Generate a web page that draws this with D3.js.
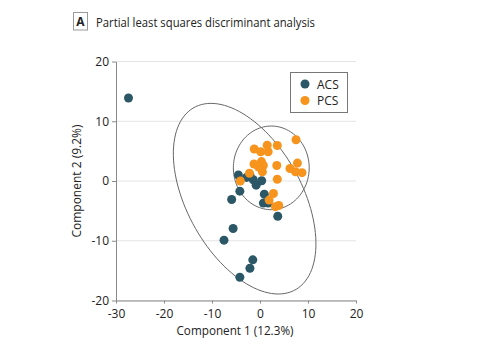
<!DOCTYPE html>
<html>
<head>
<meta charset="utf-8">
<script src="https://cdn.jsdelivr.net/npm/d3@7"></script>
<style>
html,body{margin:0;padding:0;background:#fff;}
svg{display:block;font-family:"Open Sans",sans-serif;}
</style>
</head>
<body>
<svg id="chart" width="480" height="360"></svg>
<script>
// ---- data ----
const acsX = [-27.4,-4.5,-2.8,-2.1,-1.4,-0.8,0.35,-4.2,-5.9,0.9,0.7,1.7,3.7,-5.6,-7.5,-1.5,-2.1,-4.2];
const acsY = [13.9,1.0,0.6,1.0,0.2,-0.7,0.05,-1.7,-3.1,-2.2,-3.7,-3.7,-5.9,-7.95,-9.9,-13.2,-14.6,-16.1];
const pcsX = [7.5,-1.2,0.15,1.5,1.7,3.6,-1.25,0.3,0.7,0.5,-0.3,3.5,6.25,7.8,7.4,8.75,3.6,-2.2,-4.1,2.8,1.9,3.2,3.9];
const pcsY = [6.9,5.35,4.9,6.0,4.9,5.95,2.85,3.25,2.6,1.55,2.35,2.6,2.1,3.0,1.55,1.4,0.3,1.3,0.0,-2.1,-3.2,-4.3,-4.1];
const seriesNames = ["ACS","PCS"];
const seriesColors = ["#2b5766","#f7941d"];
// ellipses: [cx, cy, semi-major, semi-minor, angle(deg)] in data units
const ellipseACS = [-3.2,-2.96,18.73,11.15,-49.3];
const ellipsePCS = [2.35,2.2,7.9,7.0,0];
const xTicks = [-30,-20,-10,0,10,20];
const yTicks = [-20,-10,0,10,20];
const titleLetter = "A";
const titleText = "Partial least squares discriminant analysis";
const xLabel = "Component 1 (12.3%)";
const yLabel = "Component 2 (9.2%)";

// ---- drawing ----
const svg = d3.select("#chart");
const x = d3.scaleLinear().domain([-30,20]).range([116,356]);
const y = d3.scaleLinear().domain([-20,20]).range([300.5,61.5]);

// title
const tg = svg.append("g");
tg.append("rect").attr("x",73.5).attr("y",12.5).attr("width",14).attr("height",17.5)
  .attr("fill","#fff").attr("stroke","#9a9a9a").attr("stroke-width",1);
tg.append("text").attr("x",80.5).attr("y",26).attr("text-anchor","middle")
  .attr("font-size",12).attr("font-weight","bold").attr("fill","#222").text(titleLetter);
tg.append("text").attr("x",96).attr("y",26.5).attr("font-size",13.5)
  .attr("textLength",219).attr("lengthAdjust","spacingAndGlyphs")
  .attr("fill","#222").text(titleText);

// grid
svg.append("g").selectAll("line").data(yTicks).join("line")
  .attr("x1",x(-30)).attr("x2",x(20)).attr("y1",d=>y(d)).attr("y2",d=>y(d))
  .attr("stroke","#e4e4e4").attr("stroke-width",1);

// axes
const ax = svg.append("g").attr("transform",`translate(0,${y(-20)})`)
  .call(d3.axisBottom(x).tickValues(xTicks).tickSize(3).tickSizeOuter(0).tickPadding(6).tickFormat(d=>d));
const ay = svg.append("g").attr("transform",`translate(${x(-30)},0)`)
  .call(d3.axisLeft(y).tickValues(yTicks).tickSize(4).tickSizeOuter(0).tickPadding(3).tickFormat(d=>d));
[ax,ay].forEach(a=>{
  a.select(".domain").attr("stroke","#8a8a8a");
  a.selectAll(".tick line").attr("stroke","#8a8a8a");
  a.selectAll(".tick text").attr("font-size",12).attr("fill","#222").attr("font-family","Open Sans, sans-serif");
});

// axis labels
svg.append("text").attr("x",235).attr("y",335).attr("text-anchor","middle")
  .attr("font-size",12).attr("textLength",117).attr("lengthAdjust","spacingAndGlyphs")
  .attr("fill","#222").text(xLabel);
svg.append("text").attr("transform",`translate(81,${y(0)}) rotate(-90)`).attr("text-anchor","middle")
  .attr("font-size",12).attr("fill","#222").text(yLabel);

// ellipses
function ellipsePts(p){
  const [cx,cy,a,b,deg]=p, th=deg*Math.PI/180;
  return d3.range(0,120).map(i=>{
    const t=i/120*2*Math.PI;
    const dx=a*Math.cos(t), dy=b*Math.sin(t);
    return [cx+dx*Math.cos(th)-dy*Math.sin(th), cy+dx*Math.sin(th)+dy*Math.cos(th)];
  });
}
const line = d3.line().x(d=>x(d[0])).y(d=>y(d[1])).curve(d3.curveCardinalClosed);
[ellipseACS,ellipsePCS].forEach(p=>{
  svg.append("path").attr("d",line(ellipsePts(p))).attr("fill","none")
    .attr("stroke","#666").attr("stroke-width",1);
});

// points
const acs = acsX.map((v,i)=>({x:v,y:acsY[i]}));
const pcs = pcsX.map((v,i)=>({x:v,y:pcsY[i]}));
svg.append("g").selectAll("circle").data(acs).join("circle")
  .attr("cx",d=>x(d.x)).attr("cy",d=>y(d.y)).attr("r",4.5).attr("fill",seriesColors[0]);
svg.append("g").selectAll("circle").data(pcs).join("circle")
  .attr("cx",d=>x(d.x)).attr("cy",d=>y(d.y)).attr("r",4.5).attr("fill",seriesColors[1]);

// legend
const lg = svg.append("g");
lg.append("rect").attr("x",290.5).attr("y",72.5).attr("width",57).attr("height",40)
  .attr("fill","#fff").attr("stroke","#777").attr("stroke-width",1);
seriesNames.forEach((n,i)=>{
  lg.append("circle").attr("cx",305).attr("cy",84+i*16.5).attr("r",4.5).attr("fill",seriesColors[i]);
  lg.append("text").attr("x",317).attr("y",88.5+i*16.5).attr("font-size",12).attr("fill","#222").text(n);
});
</script>
</body>
</html>
